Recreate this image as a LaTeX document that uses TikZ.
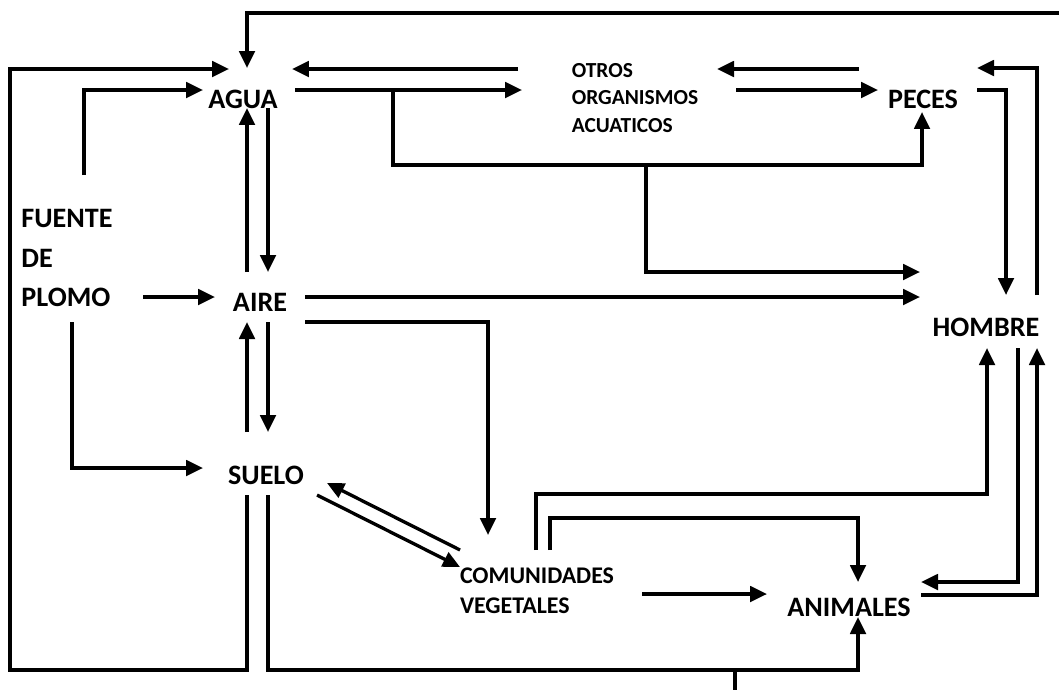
\documentclass[tikz,border=0pt]{standalone}
\usepackage{fontspec}
\setmainfont{Carlito}
\usetikzlibrary{arrows.meta,calc}
\tikzset{
  rotulo/.style={font=\bfseries\fontsize{16}{22.5}\selectfont, inner sep=0pt, align=left},
  rotulochico/.style={rotulo, font=\bfseries\fontsize{12.2}{15.9}\selectfont},
  rotulomedio/.style={rotulo, font=\bfseries\fontsize{13.6}{17}\selectfont},
  flecha/.style={-{Triangle[length=3.4mm,width=3.1mm]}, line width=1.9pt},
  linea/.style={line width=1.9pt},
}

\begin{document}
\begin{tikzpicture}[x=0.02cm, y=-0.02cm]
  \useasboundingbox (0,0) rectangle (1059,690);

  % compartimentos
  \node[rotulo] (agua) at (243,99) {AGUA};
  \node[rotulochico] (otros) at (635,98) {OTROS\\ORGANISMOS\\ACUATICOS};
  \node[rotulo] (peces) at (923,99) {PECES};
  \node[rotulo] (fuente) at (67,258) {FUENTE\\DE\\PLOMO};
  \node[rotulo] (aire) at (260,302) {AIRE};
  \node[rotulo] (suelo) at (266,475) {SUELO};
  \node[rotulo] (hombre) at (986,327) {HOMBRE};
  \node[rotulomedio] (comunidades) at (537,591) {COMUNIDADES\\VEGETALES};
  \node[rotulo] (animales) at (849,607) {ANIMALES};

  \coordinate (borde) at (1059,13);
  \coordinate (esquina) at (10,670);
  \coordinate (ramal) at (646,165);
  \coordinate (talon) at (735,670);

  % lazos exteriores
  \draw[flecha] (borde) -| ($(agua)+(4,-31)$);
  \draw[flecha] ($(suelo)+(-19,20)$) |- (esquina) |- ($(agua)+(-14,-30)$);

  % fuente de plomo
  \draw[flecha] ($(fuente)+(17,-83)$) |- ($(agua)+(-40,-9)$);
  \draw[flecha] ($(fuente)+(76,39)$) -- ($(aire)+(-45,-5)$);
  \draw[flecha] ($(fuente)+(5,64)$) |- ($(suelo)+(-63,-7)$);

  % agua, aire y suelo
  \draw[flecha] ($(aire)+(-13,-30)$) -- ($(agua)+(4,9)$);
  \draw[flecha] ($(agua)+(25,9)$) -- ($(aire)+(8,-30)$);
  \draw[flecha] ($(suelo)+(-19,-43)$) -- ($(aire)+(-13,20)$);
  \draw[flecha] ($(aire)+(8,20)$) -- ($(suelo)+(2,-43)$);

  % medio acuatico
  \draw[flecha] ($(agua)+(52,-9)$) -- ($(otros)+(-113,-8)$);
  \draw[flecha] ($(otros)+(-117,-29)$) -- ($(agua)+(49,-30)$);
  \draw[flecha] ($(peces)+(-64,-30)$) -- ($(otros)+(82,-29)$);
  \draw[flecha] ($(otros)+(101,-8)$) -- ($(peces)+(-45,-9)$);
  \draw[flecha] ($(agua)+(150,-9)$) |- (ramal) -| ($(peces)+(-1,13)$);
  \draw[flecha] (ramal) |- ($(hombre)+(-66,-55)$);

  % hombre y peces
  \draw[flecha] ($(hombre)+(51,-32)$) |- ($(peces)+(54,-31)$);
  \draw[flecha] ($(peces)+(54,-9)$) -| ($(hombre)+(20,-32)$);

  % desde el aire
  \draw[flecha] ($(aire)+(45,-5)$) -- ($(hombre)+(-66,-30)$);
  \draw[flecha] ($(aire)+(45,20)$) -| ($(comunidades)+(-49,-56)$);

  % suelo y vegetales
  \draw[flecha] ($(comunidades)+(-77,-41)$) -- ($(suelo)+(61,8)$);
  \draw[flecha] ($(suelo)+(51,20)$) -- ($(comunidades)+(-77,-24)$);

  % cadena terrestre
  \draw[flecha] ($(comunidades)+(-1,-41)$) -- ++(0,-56) -| ($(hombre)+(1,21)$);
  \draw[flecha] ($(comunidades)+(13,-41)$) -- ++(0,-32) -| ($(animales)+(9,-25)$);
  \draw[flecha] ($(comunidades)+(105,3)$) -- ($(animales)+(-82,-13)$);
  \draw[flecha] ($(hombre)+(32,21)$) |- ($(animales)+(72,-25)$);
  \draw[flecha] ($(animales)+(72,-12)$) -| ($(hombre)+(51,21)$);
  \draw[flecha] ($(suelo)+(2,20)$) |- (talon) -| ($(animales)+(9,10)$);
  \draw[linea] (talon) -- ++(0,20);
\end{tikzpicture}
\end{document}
